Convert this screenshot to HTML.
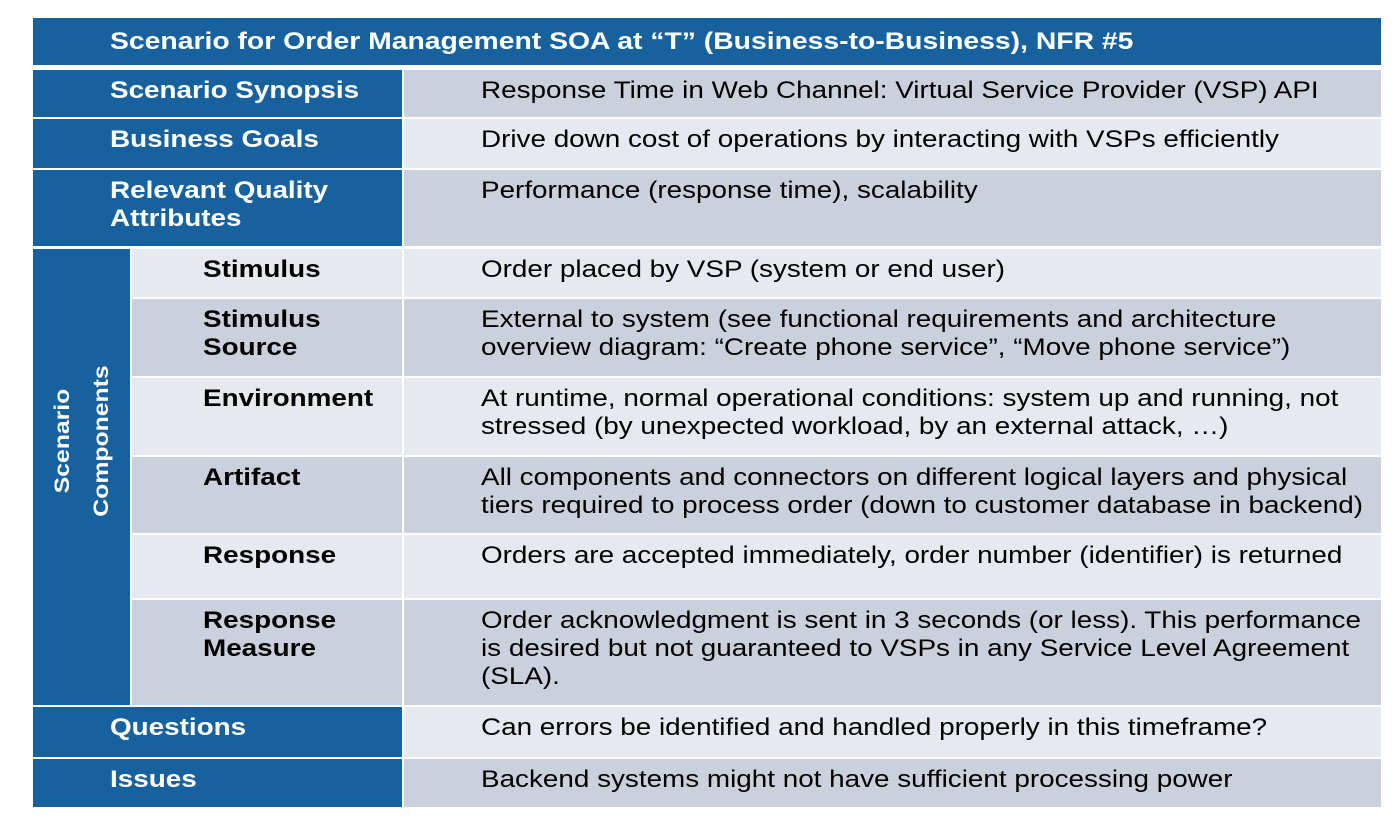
<!DOCTYPE html>
<html><head><meta charset="utf-8"><style>
body{margin:0;width:1393px;height:817px;background:#fff;position:relative;overflow:hidden;font-family:"Liberation Sans",Arial,sans-serif;}
.c{position:absolute;box-sizing:border-box;font-size:24px;line-height:28px;padding-top:7px;}
.c span{display:inline-block;transform:scaleX(1.16);transform-origin:left top;white-space:nowrap;}
.b{background:#17629e;color:#fff;font-weight:bold;padding-left:110px;}
.d{background:#cbd1dc;color:#000;}
.l{background:#e6e9ef;color:#000;}
.v{padding-left:77px;}
.s{font-weight:bold;padding-left:71px;}
.rot{position:absolute;left:33px;top:249px;width:97px;height:456px;background:#17629e;}
.rt{position:absolute;left:82px;top:441px;transform:translate(-50%,-50%) rotate(-90deg) scaleX(1.18);color:#fff;font-weight:bold;font-size:21px;line-height:39px;text-align:center;white-space:nowrap;}
</style></head><body>
<div class="c b" style="left:33px;top:18px;width:1348px;height:47px;padding-top:10px;padding-left:77px;"><span style="transform:scaleX(1.18)">Scenario for Order Management SOA at “T” (Business-to-Business), NFR #5</span></div>

<div class="c b" style="left:33px;top:70px;width:369px;height:47px;padding-left:77px;"><span>Scenario Synopsis</span></div>
<div class="c d v" style="left:404px;top:70px;width:977px;height:47px;"><span>Response Time in Web Channel: Virtual Service Provider (VSP) API</span></div>

<div class="c b" style="left:33px;top:119px;width:369px;height:49px;padding-left:77px;"><span>Business Goals</span></div>
<div class="c l v" style="left:404px;top:119px;width:977px;height:49px;"><span>Drive down cost of operations by interacting with VSPs efficiently</span></div>

<div class="c b" style="left:33px;top:170px;width:369px;height:76px;padding-left:77px;"><span>Relevant Quality<br>Attributes</span></div>
<div class="c d v" style="left:404px;top:170px;width:977px;height:76px;"><span>Performance (response time), scalability</span></div>

<div class="rot"></div>
<div class="rt">Scenario<br>Components</div>

<div class="c l s" style="left:132px;top:249px;width:270px;height:48px;"><span>Stimulus</span></div>
<div class="c l v" style="left:404px;top:249px;width:977px;height:48px;"><span>Order placed by VSP (system or end user)</span></div>

<div class="c d s" style="left:132px;top:299px;width:270px;height:77px;"><span>Stimulus<br>Source</span></div>
<div class="c d v" style="left:404px;top:299px;width:977px;height:77px;"><span>External to system (see functional requirements and architecture<br>overview diagram: “Create phone service”, “Move phone service”)</span></div>

<div class="c l s" style="left:132px;top:378px;width:270px;height:77px;"><span>Environment</span></div>
<div class="c l v" style="left:404px;top:378px;width:977px;height:77px;"><span>At runtime, normal operational conditions: system up and running, not<br>stressed (by unexpected workload, by an external attack, …)</span></div>

<div class="c d s" style="left:132px;top:457px;width:270px;height:76px;"><span>Artifact</span></div>
<div class="c d v" style="left:404px;top:457px;width:977px;height:76px;"><span>All components and connectors on different logical layers and physical<br>tiers required to process order (down to customer database in backend)</span></div>

<div class="c l s" style="left:132px;top:535px;width:270px;height:63px;"><span>Response</span></div>
<div class="c l v" style="left:404px;top:535px;width:977px;height:63px;"><span>Orders are accepted immediately, order number (identifier) is returned</span></div>

<div class="c d s" style="left:132px;top:600px;width:270px;height:105px;"><span>Response<br>Measure</span></div>
<div class="c d v" style="left:404px;top:600px;width:977px;height:105px;"><span>Order acknowledgment is sent in 3 seconds (or less). This performance<br>is desired but not guaranteed to VSPs in any Service Level Agreement<br>(SLA).</span></div>

<div class="c b" style="left:33px;top:707px;width:369px;height:50px;padding-left:77px;"><span>Questions</span></div>
<div class="c l v" style="left:404px;top:707px;width:977px;height:50px;"><span>Can errors be identified and handled properly in this timeframe?</span></div>

<div class="c b" style="left:33px;top:759px;width:369px;height:48px;padding-left:77px;"><span>Issues</span></div>
<div class="c d v" style="left:404px;top:759px;width:977px;height:48px;"><span>Backend systems might not have sufficient processing power</span></div>
</body></html>
